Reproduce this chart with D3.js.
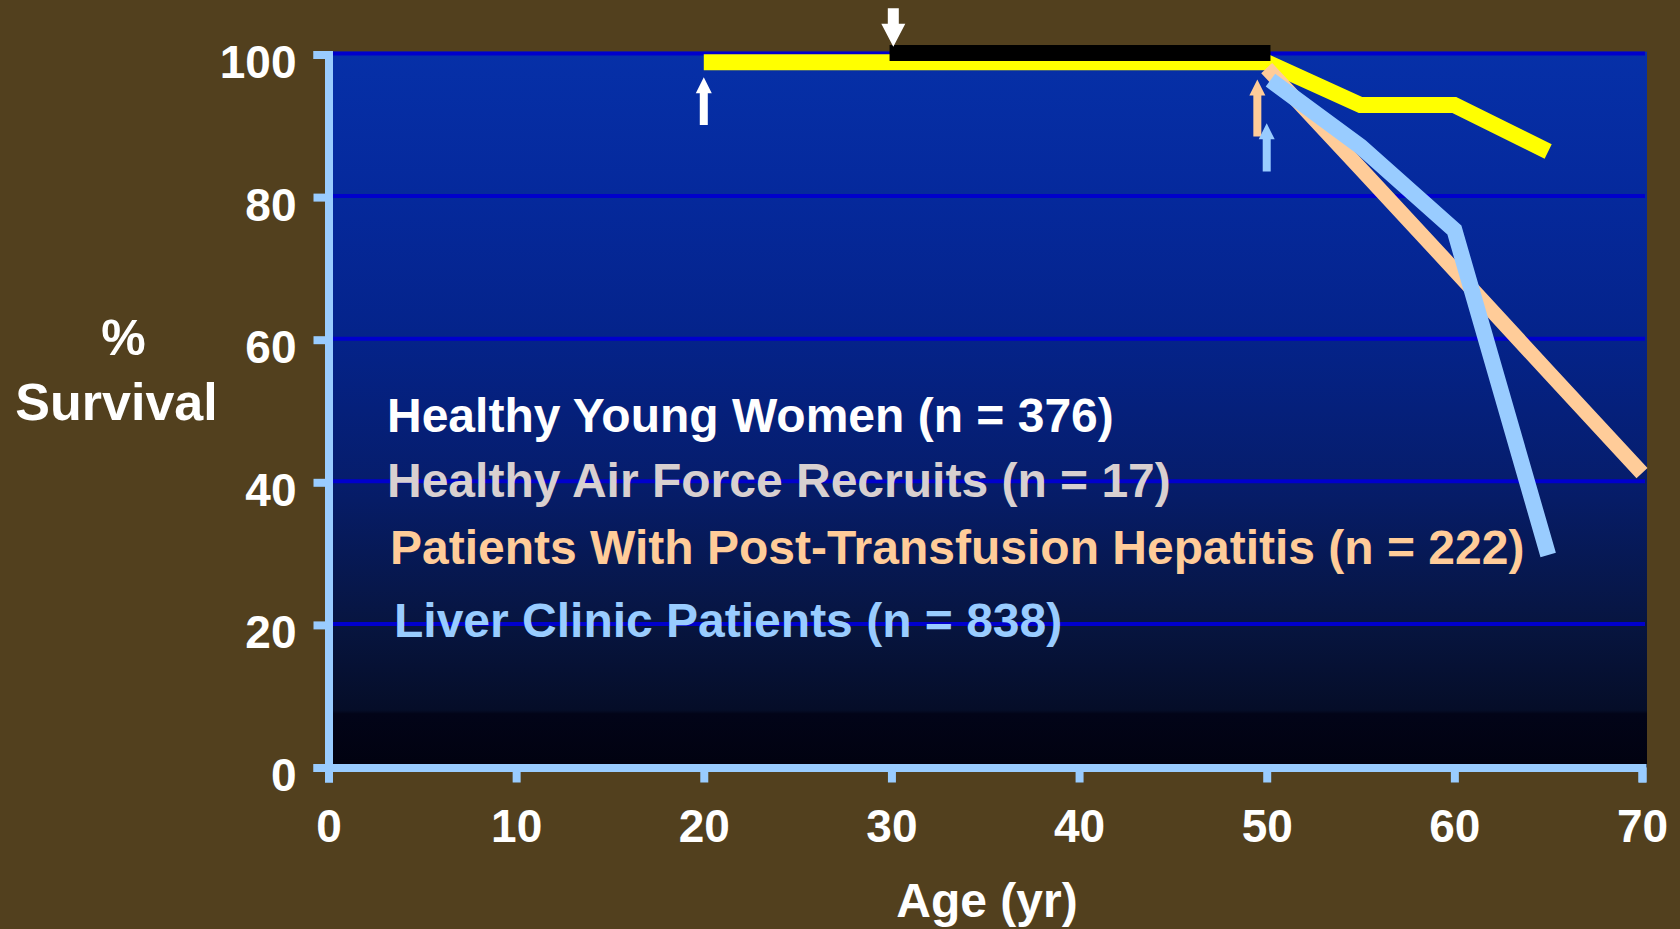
<!DOCTYPE html>
<html>
<head>
<meta charset="utf-8">
<script src="https://cdn.jsdelivr.net/npm/d3@7"></script>
<style>
	body { margin: 0; background: #52401E; }
	svg { display: block; }
	text { font-family: "Liberation Sans", Arial, sans-serif; font-weight: bold; }
</style>
</head>
<body>
<div id="chart"></div>
<script>
const containerWidth = 1680;
const containerHeight = 929;

// Data
const youngAges = [20, 50, 55, 60, 65];
const youngSurvival = [98.9, 98.9, 92.9, 92.9, 86.4];

const airForceAges = [29.9, 50.2];
const airForceSurvival = [100.2, 100.2];

const hepatitisAges = [50, 55, 60, 65, 70];
const hepatitisSurvival = [98.1, 84, 69.8, 55.5, 41.3];

const clinicAges = [50.2, 55, 60, 65];
const clinicSurvival = [96.4, 87.1, 75.4, 29.8];

const xTicks = [0, 10, 20, 30, 40, 50, 60, 70];
const yTicks = [0, 20, 40, 60, 80, 100];

const legendLabels = [
	"Healthy Young Women (n = 376)",
	"Healthy Air Force Recruits (n = 17)",
	"Patients With Post-Transfusion Hepatitis (n = 222)",
	"Liver Clinic Patients (n = 838)"
];

// arrow annotations: age, tip value, tail value
const arrowAges = [20, 30.1, 49.5, 50];
const arrowTips = [96.8, 101.1, 96.5, 90.35];
const arrowTails = [90.1, 106.5, 88.5, 83.6];

const svgContainer = d3.select("#chart")
						.append('svg')
						.attr('width', containerWidth)
						.attr('height', containerHeight);

//Scales
const scaleX = d3.scaleLinear()
				 .domain([0, 70])
				 .range([328.5, 1642]);

const scaleY = d3.scaleLinear()
				 .domain([0, 100])
				 .range([767.5, 54.5]);

//Plot background gradient
const defs = svgContainer.append('defs');
const grad = defs.append('linearGradient')
				 .attr('id', 'plotbg')
				 .attr('x1', 0).attr('y1', 0)
				 .attr('x2', 0).attr('y2', 1);
[[0, '#0630A8'], [0.2, '#05299C'], [0.4, '#04238A'], [0.6, '#061D6C'], [0.8, '#071540'], [0.92, '#050D28'], [0.925, '#020418'], [1, '#010210']]
	.forEach(s => grad.append('stop').attr('offset', s[0]).attr('stop-color', s[1]));

svgContainer.append('rect')
			.attr('x', scaleX(0))
			.attr('y', 51.7)
			.attr('width', 1647 - scaleX(0))
			.attr('height', scaleY(0) - 51.7)
			.attr('fill', 'url(#plotbg)');

//Gridlines
svgContainer.selectAll('.grid')
			.data(yTicks.filter(d => d > 0))
			.enter()
			.append('line')
			.attr('class', 'grid')
			.attr('x1', scaleX(0))
			.attr('x2', 1645)
			.attr('y1', d => scaleY(d) - 1)
			.attr('y2', d => scaleY(d) - 1)
			.attr('stroke', '#0000CC')
			.attr('stroke-width', 4);

//Legend text
const legendColors = ['#FFFFFF', '#D8D0D0', '#FFCC99', '#99CCFF'];
const legendX = [387, 387, 390, 394];
const legendY = [431.7, 497.3, 564, 636.7];
svgContainer.selectAll('.legend')
			.data(legendLabels)
			.enter()
			.append('text')
			.attr('class', 'legend')
			.attr('x', (d, i) => legendX[i])
			.attr('y', (d, i) => legendY[i])
			.attr('fill', (d, i) => legendColors[i])
			.style('font-size', '48px')
			.text(d => d);

//Lines
const line = d3.line()
			   .x(d => scaleX(d[0]))
			   .y(d => scaleY(d[1]));

const zipData = (a, b) => a.map((d, i) => [d, b[i]]);

const series = [
	{ pts: zipData(youngAges, youngSurvival), color: '#FFFF00', width: 16 },
	{ pts: zipData(airForceAges, airForceSurvival), color: '#000000', width: 16 },
	{ pts: zipData(hepatitisAges, hepatitisSurvival), color: '#FFCC99', width: 15 },
	{ pts: zipData(clinicAges, clinicSurvival), color: '#99CCFF', width: 16 }
];

svgContainer.selectAll('.series')
			.data(series)
			.enter()
			.append('path')
			.attr('class', 'series')
			.attr('d', d => line(d.pts))
			.attr('fill', 'none')
			.attr('stroke', d => d.color)
			.attr('stroke-width', d => d.width)
			.attr('stroke-linejoin', 'miter')
			.attr('stroke-linecap', 'butt');

//Arrows
const arrowColors = ['#FFFFFF', '#FFFFFF', '#FFCC99', '#99CCFF'];
function arrowPath(age, tip, tail, big) {
	const x = scaleX(age), yt = scaleY(tip), yb = scaleY(tail);
	const sw = big ? 5.5 : 4, hw = big ? 12 : 8, hh = big ? 23 : 16;
	const dir = yb > yt ? 1 : -1;
	const yh = yt + dir * hh;
	return `M${x},${yt}L${x + hw},${yh}L${x + sw},${yh}L${x + sw},${yb}L${x - sw},${yb}L${x - sw},${yh}L${x - hw},${yh}Z`;
}
svgContainer.selectAll('.arrow')
			.data(arrowAges)
			.enter()
			.append('path')
			.attr('class', 'arrow')
			.attr('d', (d, i) => arrowPath(d, arrowTips[i], arrowTails[i], i === 1))
			.attr('fill', (d, i) => arrowColors[i]);

//Axes
const yAxis = d3.axisLeft(scaleY)
				.tickValues(yTicks)
				.tickSize(15)
				.tickPadding(17);
const xAxis = d3.axisBottom(scaleX)
				.tickValues(xTicks)
				.tickSize(15)
				.tickPadding(26.5);

const yG = svgContainer.append('g')
			.attr('transform', 'translate(' + scaleX(0) + ',0)')
			.attr('id', 'y-axis')
			.call(yAxis);

const xG = svgContainer.append('g')
			.attr('transform', 'translate(0,' + scaleY(0) + ')')
			.attr('id', 'x-axis')
			.call(xAxis);

[yG, xG].forEach(g => {
	g.attr('font-family', null).attr('font-size', null);
	g.selectAll('path, line')
	 .attr('stroke', '#99CCFF')
	 .attr('stroke-width', 8);
	g.select('.domain').attr('fill', 'none');
	g.selectAll('text')
	 .attr('fill', '#FFFFFF')
	 .style('font-size', '46px');
});
yG.selectAll('text').attr('dy', '0.5em');

//Axis titles
svgContainer.append('text')
			.attr('x', 123.5)
			.attr('y', 355)
			.attr('text-anchor', 'middle')
			.attr('fill', '#FFFFFF')
			.style('font-size', '50px')
			.text('%');

svgContainer.append('text')
			.attr('x', 116.5)
			.attr('y', 420)
			.attr('text-anchor', 'middle')
			.attr('fill', '#FFFFFF')
			.style('font-size', '52px')
			.text('Survival');

svgContainer.append('text')
			.attr('x', 987)
			.attr('y', 917.3)
			.attr('text-anchor', 'middle')
			.attr('fill', '#FFFFFF')
			.style('font-size', '48px')
			.text('Age (yr)');
</script>
</body>
</html>
